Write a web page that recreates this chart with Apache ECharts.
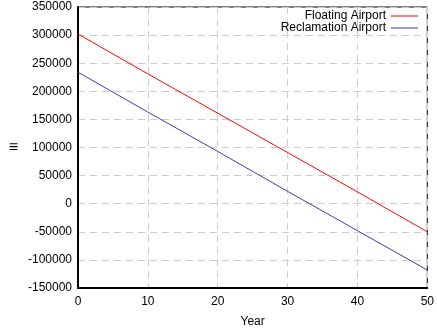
<!DOCTYPE html>
<html lang="en">
<head>
    <meta charset="UTF-8">
    <title>Airport</title>
    <script type="text/javascript" src="https://cdn.jsdelivr.net/npm/echarts@6/dist/echarts.min.js"></script>
</head>
<body style="margin:0">
<div id="chart" style="width: 437px;height: 333px"></div>
<script type="text/javascript">
    var years = [0, 10, 20, 30, 40, 50];
    var floating = [302000, 231000, 161000, 91000, 21000, -50000];
    var reclamation = [234000, 163000, 93000, 22000, -48000, -118000];

    function pairs(xs, ys) {
        return xs.map(function (x, i) { return [x, ys[i]]; });
    }

    var font = 'Liberation Sans, Arial, sans-serif';
    var gridLine = {show: true, lineStyle: {color: '#cccccc', type: [7, 5], width: 1}};
    var plain = function (v) { return String(v); };

    var chart = echarts.init(document.getElementById('chart'));
    var option = {
        animation: false,
        // frame round the plot
        grid: {left: 78, right: 9, top: 7, bottom: 45, show: true, borderColor: '#000', borderWidth: 1},
        legend: {
            orient: 'vertical',
            right: 19,
            top: 10,
            padding: 0,
            itemGap: 0,
            align: 'right',
            icon: 'rect',
            itemWidth: 27,
            itemHeight: 1,
            textStyle: {fontFamily: font, fontSize: 12, color: '#000'},
            data: ['Floating Airport', 'Reclamation Airport']
        },
        xAxis: [{
            type: 'value', min: 0, max: 50, interval: 10,
            name: 'Year', nameLocation: 'middle', nameGap: 28,
            nameTextStyle: {fontFamily: font, fontSize: 12, color: '#000'},
            axisLine: {onZero: false, lineStyle: {color: '#000', width: 2}},
            axisTick: {show: false},
            axisLabel: {fontFamily: font, fontSize: 12, color: '#000', margin: 8, formatter: plain},
            splitLine: gridLine
        }],
        yAxis: [{
            type: 'value', min: -150000, max: 350000, interval: 50000,
            name: '≡', nameLocation: 'middle', nameGap: 60, nameRotate: 0,
            nameTextStyle: {fontFamily: font, fontSize: 16, color: '#000'},
            axisLine: {show: true, onZero: false, lineStyle: {color: '#000', width: 2}},
            axisTick: {show: false},
            axisLabel: {fontFamily: font, fontSize: 12, color: '#000', margin: 6, formatter: plain},
            splitLine: gridLine
        }],
        series: [{
            name: 'Floating Airport',
            type: 'line',
            showSymbol: false,
            color: '#ff0000',
            lineStyle: {width: 1},
            data: pairs(years, floating)
        }, {
            name: 'Reclamation Airport',
            type: 'line',
            showSymbol: false,
            color: '#3c3cb0',
            lineStyle: {width: 1},
            data: pairs(years, reclamation)
        }]
    };
    chart.setOption(option);
</script>
</body>
</html>
